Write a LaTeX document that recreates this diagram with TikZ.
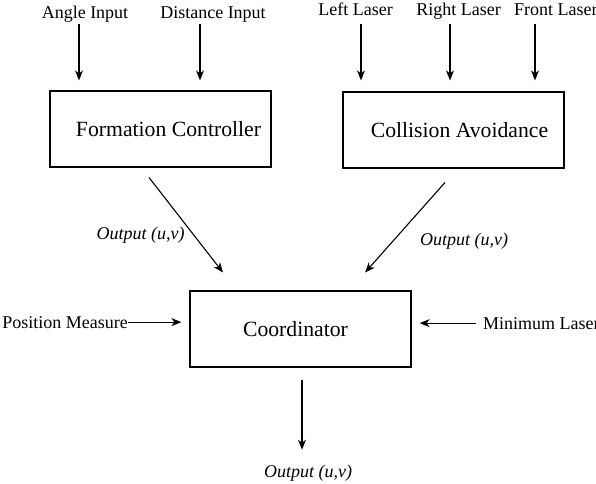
\documentclass[tikz,border=0pt]{standalone}
\usepackage{fontspec}
\setmainfont{Liberation Serif}
\usetikzlibrary{arrows.meta}
\begin{document}
\begin{tikzpicture}[x=1pt,y=-1pt,
  box/.style={draw, line width=1.2pt, minimum width=221pt, minimum height=76pt, inner sep=0pt, font=\rmfamily\fontsize{21.7}{24}\selectfont},
  lbl/.style={inner sep=0pt, font=\rmfamily\fontsize{18}{20}\selectfont},
  outl/.style={inner sep=0pt, font=\rmfamily\fontsize{18}{20}\selectfont\itshape},
  arr/.style={line width=1.1pt, -{Stealth[length=10pt,width=8pt,inset=3pt]}}]
\clip (0,0) rectangle (596,483);
\fill[white] (0,0) rectangle (596,483);

% boxes
\node[box] (fc) at (160.5,129) {\hspace*{16pt}Formation Controller};
\node[box] (ca) at (453.5,130) {\hspace*{12pt}\raisebox{-3pt}{Collision Avoidance}};
\node[box] (co) at (300.5,329) {Coordinator\hspace*{10pt}};

% input labels
\node[lbl, anchor=base] (ai) at (85,18.5) {Angle Input};
\node[lbl, anchor=base] (di) at (213,18.5) {Distance Input};
\node[lbl, anchor=base] (ll) at (355.5,15.5) {Left Laser};
\node[lbl, anchor=base] (rl) at (458.5,15.5) {Right Laser};
\node[lbl, anchor=base west] (fl) at (514,15.5) {Front Laser};
\node[lbl, anchor=base east] (pm) at (128,328) {Position Measure};
\node[lbl, anchor=base west] (ml) at (483,329) {Minimum Laser};

% output labels
\node[outl, anchor=base] (o1) at (140.5,239) {Output (u,v)};
\node[outl, anchor=base] (o2) at (464,245) {Output (u,v)};
\node[outl, anchor=base] (o3) at (308,477) {Output (u,v)};

% arrow start points of inputs
\coordinate (t1) at (79,24);
\coordinate (t2) at (200,24);
\coordinate (t3) at (361,24);
\coordinate (t4) at (450,24);
\coordinate (t5) at (535,24);

\draw[arr, shorten >=10pt] (t1) -- (t1 |- fc.north);
\draw[arr, shorten >=10pt] (t2) -- (t2 |- fc.north);
\draw[arr, shorten >=11pt] (t3) -- (t3 |- ca.north);
\draw[arr, shorten >=11pt] (t4) -- (t4 |- ca.north);
\draw[arr, shorten >=11pt] (t5) -- (t5 |- ca.north);

% diagonal outputs
\draw[arr, shorten <=12.6pt, shorten >=22.7pt] ([xshift=-19.2pt]fc.south) -- ([xshift=-63.6pt]co.north);
\draw[arr, shorten <=18.6pt, shorten >=24pt] ([xshift=3.8pt]ca.south) -- ([xshift=48.7pt]co.north);

% side inputs
\draw[arr, shorten >=8pt] (pm.east) -- (pm.east -| co.west);
\draw[arr, shorten <=7pt, shorten >=8pt] (ml.west) -- (ml.west -| co.east);

% final output
\draw[arr, shorten <=12pt, shorten >=14.6pt] ([xshift=1.5pt]co.south) -- ([xshift=1.5pt]co.south |- o3.north);
\end{tikzpicture}
\end{document}
